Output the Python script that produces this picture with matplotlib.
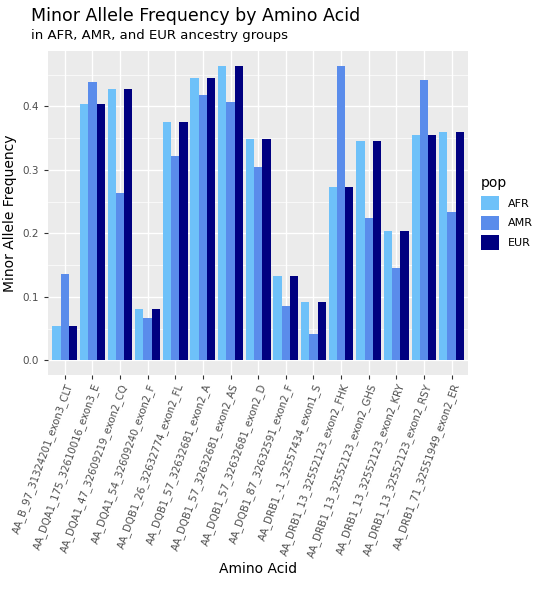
import numpy as np
import matplotlib.pyplot as plt

amino = ["AA_B_97_31324201_exon3_CLT", "AA_DQA1_175_32610016_exon3_E",
         "AA_DQA1_47_32609219_exon2_CQ", "AA_DQA1_54_32609240_exon2_F",
         "AA_DQB1_26_32632774_exon2_FL", "AA_DQB1_57_32632681_exon2_A",
         "AA_DQB1_57_32632681_exon2_AS", "AA_DQB1_57_32632681_exon2_D",
         "AA_DQB1_87_32632591_exon2_F", "AA_DRB1_-1_32557434_exon1_S",
         "AA_DRB1_13_32552123_exon2_FHK", "AA_DRB1_13_32552123_exon2_GHS",
         "AA_DRB1_13_32552123_exon2_KRY", "AA_DRB1_13_32552123_exon2_RSY",
         "AA_DRB1_71_32551949_exon2_ER"]
afr = [0.054, 0.403, 0.427, 0.081, 0.375, 0.444, 0.463, 0.349, 0.133, 0.092, 0.273, 0.346, 0.204, 0.354, 0.360]
amr = [0.136, 0.438, 0.263, 0.067, 0.322, 0.418, 0.406, 0.304, 0.086, 0.041, 0.463, 0.224, 0.145, 0.441, 0.234]
eur = [0.054, 0.403, 0.427, 0.081, 0.375, 0.444, 0.463, 0.349, 0.133, 0.092, 0.273, 0.346, 0.204, 0.354, 0.360]
pops = ["AFR", "AMR", "EUR"]
colors = ["#6EC1F9", "#5A8CEB", "#000080"]

fig = plt.figure(figsize=(5.6, 6), dpi=100)
ax = fig.add_axes([0.086, 0.375, 0.75, 0.54])
ax.set_facecolor("#EBEBEB")
x = np.arange(len(amino))
w = 0.3
for i, (vals, c, p) in enumerate(zip([afr, amr, eur], colors, pops)):
    ax.bar(x + (i - 1) * w, vals, w, color=c, label=p, zorder=3)

ax.set_xlim(-0.6, len(amino) - 0.4)
ax.set_ylim(-0.023, 0.487)
ax.set_yticks([0, 0.1, 0.2, 0.3, 0.4])
ax.set_yticks([0.05, 0.15, 0.25, 0.35, 0.45], minor=True)
ax.set_xticks(x)
ax.set_xticklabels(amino, rotation=70, ha="right", rotation_mode="anchor", fontsize=7.3, color="#4D4D4D")
ax.tick_params(axis="y", labelsize=7.5, labelcolor="#4D4D4D", color="#333333", length=3)
ax.tick_params(axis="x", color="#333333", length=3, pad=2)
ax.tick_params(which="minor", length=0)
ax.grid(True, which="major", color="white", linewidth=1.0, zorder=0)
ax.grid(True, which="minor", color="white", linewidth=0.5, zorder=0)
for s in ax.spines.values():
    s.set_visible(False)
ax.set_xlabel("Amino Acid", fontsize=10, labelpad=2)
ax.set_ylabel("Minor Allele Frequency", fontsize=10)
fig.text(0.055, 0.973, "Minor Allele Frequency by Amino Acid", fontsize=12.5, va="center")
fig.text(0.055, 0.940, "in AFR, AMR, and EUR ancestry groups", fontsize=9.5, va="center")
leg = ax.legend(title="pop", loc="center left", bbox_to_anchor=(1.02, 0.5), frameon=False,
                fontsize=8, title_fontsize=10, handlelength=1.6, handleheight=1.6, borderaxespad=0)
leg._legend_box.align = "left"
fig.savefig("out.png", dpi=100)
